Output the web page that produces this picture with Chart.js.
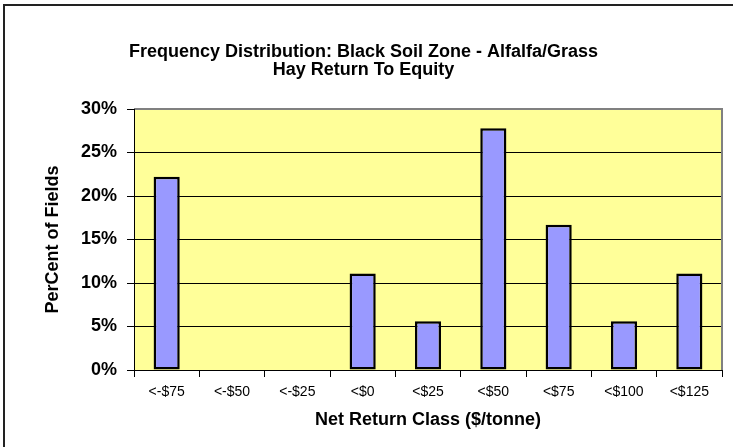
<!DOCTYPE html>
<html>
<head>
<meta charset="utf-8">
<script src="https://cdn.jsdelivr.net/npm/chart.js@4"></script>
<style>
  body { margin: 0; background: #fff; }
  canvas { display: block; }
</style>
</head>
<body>
<canvas id="freq-chart" width="733" height="447"></canvas>
<script>
// Chart data
const titleLines = ['Frequency Distribution: Black Soil Zone - Alfalfa/Grass', 'Hay Return To Equity'];
const returnClasses = ['<-$75', '<-$50', '<-$25', '<$0', '<$25', '<$50', '<$75', '<$100', '<$125'];
const percentFields = [22.2, 0, 0, 11.1, 5.6, 27.8, 16.7, 5.6, 11.1];
const yTicks = [0, 5, 10, 15, 20, 25, 30];

const FONT = 'Arial, "Liberation Sans", sans-serif';

// Yellow plot background, gray plot frame and the outer chart border
const framePlugin = {
  id: 'frame',
  beforeDraw(chart) {
    const { ctx, chartArea: a } = chart;
    ctx.save();
    ctx.fillStyle = '#FFFF99';
    ctx.fillRect(a.left, a.top, a.right - a.left, a.bottom - a.top);
    ctx.restore();
  },
  afterDraw(chart) {
    const { ctx, chartArea: a } = chart;
    ctx.save();
    ctx.strokeStyle = '#808080';
    ctx.lineWidth = 2;
    ctx.beginPath();
    ctx.moveTo(a.left, a.top);
    ctx.lineTo(a.right, a.top);
    ctx.lineTo(a.right, a.bottom);
    ctx.stroke();
    ctx.strokeStyle = '#000';
    ctx.lineWidth = 1;
    ctx.beginPath();
    ctx.moveTo(a.left + 0.5, a.top);
    ctx.lineTo(a.left + 0.5, a.bottom + 0.5);
    ctx.lineTo(a.right, a.bottom + 0.5);
    ctx.stroke();
    // outer border (right/bottom fall outside the picture)
    ctx.strokeStyle = '#222';
    ctx.lineWidth = 2;
    ctx.strokeRect(4, 5, 800, 800);
    ctx.restore();
  }
};

const ctx = document.getElementById('freq-chart').getContext('2d');
new Chart(ctx, {
  type: 'bar',
  data: {
    labels: returnClasses,
    datasets: [{
      data: percentFields,
      backgroundColor: '#9999FF',
      borderColor: '#000',
      borderWidth: 2.5,
      borderSkipped: false,
      categoryPercentage: 1,
      barPercentage: 0.4
    }]
  },
  options: {
    responsive: false,
    animation: false,
    layout: { padding: { left: 5, right: 11, top: 0, bottom: 0 } },
    plugins: {
      legend: { display: false },
      tooltip: { enabled: false },
      title: {
        display: true,
        text: titleLines,
        color: '#000',
        font: { family: FONT, size: 18, weight: 'bold', lineHeight: 1.0 },
        padding: { top: 43, bottom: 30 }
      }
    },
    scales: {
      x: {
        grid: { display: true, drawOnChartArea: false, drawTicks: true, tickLength: 7, tickColor: '#000', offset: true },
        border: { display: false },
        ticks: { color: '#000', padding: 7, maxRotation: 0, autoSkip: false, font: { family: FONT, size: 14 } },
        title: {
          display: true,
          text: 'Net Return Class ($/tonne)',
          color: '#000',
          font: { family: FONT, size: 18, weight: 'bold', lineHeight: 1.2 },
          padding: { top: 0, bottom: 16 }
        },
        afterFit(scale) { scale.height = 77; }
      },
      y: {
        min: 0,
        max: 30,
        afterBuildTicks(scale) { scale.ticks = yTicks.map(v => ({ value: v })); },
        grid: { color: '#000', lineWidth: 1, drawTicks: true, tickLength: 7, tickColor: '#000' },
        border: { display: false },
        ticks: {
          color: '#000',
          padding: 10,
          font: { family: FONT, size: 18, weight: 'bold' },
          callback: function(value) { return value + '%'; }
        },
        title: {
          display: true,
          text: 'PerCent of Fields',
          color: '#000',
          font: { family: FONT, size: 18, weight: 'bold', lineHeight: 1.2 },
          padding: { top: 37, bottom: 0 }
        },
        afterFit(scale) { scale.width = 129; }
      }
    }
  },
  plugins: [framePlugin]
});
</script>
</body>
</html>
